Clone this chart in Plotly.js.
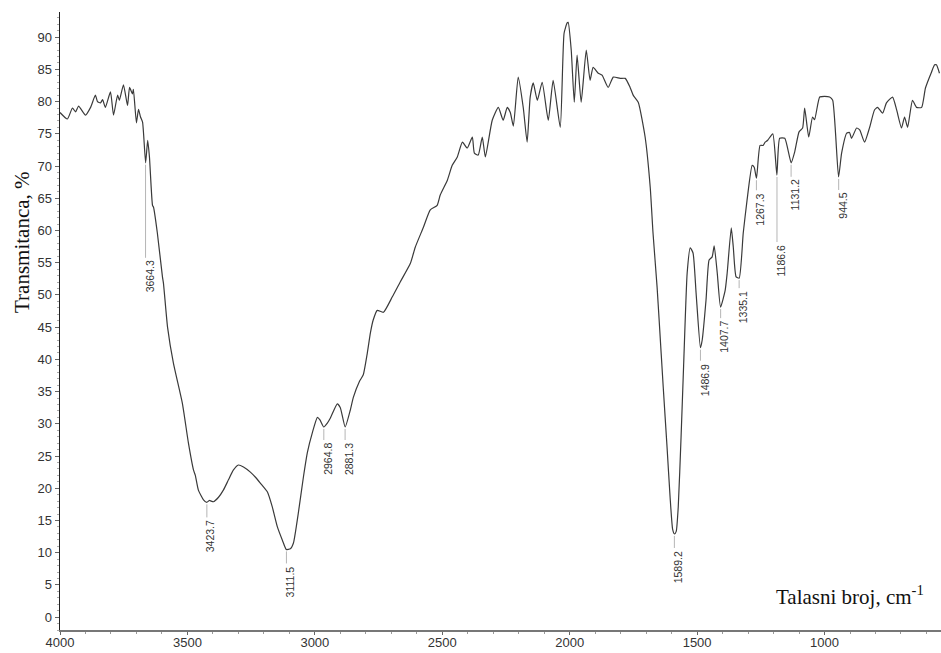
<!DOCTYPE html>
<html>
<head>
<meta charset="utf-8">
<script src="https://cdn.plot.ly/plotly-3.0.1.min.js"></script>
<style>html,body{margin:0;padding:0;background:#fff}#chart{width:941px;height:653px}</style>
</head>
<body>
<div id="chart"></div>
<script>
// Spectrum: wavenumber (cm-1) and transmittance (%)
const wavenumber = [4000,3971,3951,3939,3927,3900,3880,3861,3853,3841,3833,3822,3802,3790,3774,3767,3751,3735,3727,3716,3712,3700,3692,3684,3676,3664,3656,3649,3637,3633,3618,3598,3594,3578,3555,3520,3496,3476,3469,3457,3437,3424,3414,3398,3378,3359,3339,3320,3300,3280,3253,3233,3214,3186,3167,3147,3127,3112,3096,3084,3065,3045,3029,3010,2990,2980,2965,2951,2939,2912,2900,2881,2861,2849,2826,2810,2794,2782,2771,2755,2731,2696,2665,2625,2606,2574,2547,2520,2508,2480,2461,2441,2421,2402,2382,2374,2359,2343,2331,2304,2280,2261,2245,2233,2221,2202,2182,2167,2155,2143,2127,2108,2084,2065,2037,2022,2010,2006,1994,1982,1971,1955,1935,1920,1908,1888,1873,1849,1829,1802,1782,1763,1751,1731,1704,1684,1673,1657,1649,1633,1618,1606,1596,1589,1582,1574,1563,1553,1539,1527,1516,1504,1487,1480,1465,1453,1441,1433,1421,1408,1390,1382,1366,1358,1347,1335,1319,1304,1284,1276,1267,1253,1241,1233,1223,1203,1187,1176,1156,1131,1117,1100,1086,1078,1062,1047,1039,1019,1000,980,968,945,933,913,902,894,874,862,843,823,804,792,772,757,733,717,698,686,674,655,639,619,604,580,568,561,549];
const transmittance = [78.3,77.3,79.0,78.4,79.3,77.9,79.1,81.0,80.0,79.8,80.3,79.1,81.5,77.9,81.0,80.2,82.6,79.4,82.2,81.2,81.9,76.7,78.8,77.6,76.8,70.5,74.0,71.4,63.9,63.6,59.6,52.8,51.8,45.0,39.4,33.2,27.0,22.8,22.0,19.7,18.2,17.8,18.1,17.9,18.6,19.7,21.3,22.8,23.6,23.3,22.5,21.7,20.8,19.4,17.1,14.0,11.9,10.5,10.6,11.5,16.1,21.7,25.6,28.6,31.0,30.6,29.5,30.1,30.9,33.1,32.5,29.5,32.1,34.1,36.5,37.6,41.0,44.1,46.1,47.6,47.3,49.7,52.0,54.9,57.4,60.5,63.2,63.9,65.5,67.8,70.1,71.4,73.7,72.8,74.5,72.0,71.7,74.5,71.4,77.1,79.1,77.1,79.1,78.3,76.2,83.8,79.0,73.7,80.7,82.9,80.2,83.0,77.1,83.3,76.0,90.6,92.2,92.3,88.0,79.9,87.2,79.9,88.0,83.3,85.3,84.4,84.1,82.2,83.8,83.6,83.6,82.2,81.0,79.9,74.5,66.7,59.6,51.2,46.1,35.7,26.4,18.6,13.6,12.9,13.3,17.1,27.9,39.0,53.4,57.3,56.5,50.3,41.8,43.0,49.2,55.4,55.9,57.6,53.4,48.1,50.7,53.4,60.4,57.4,52.8,52.6,59.6,64.7,70.1,69.8,68.1,73.2,73.2,73.7,74.0,75.0,68.6,74.3,74.3,70.5,72.2,75.3,75.9,79.0,74.5,77.6,77.2,80.7,80.8,80.7,80.2,68.3,72.0,75.1,75.2,74.3,75.9,75.6,73.7,76.0,78.7,79.1,78.2,79.8,80.7,78.7,75.9,77.6,76.0,80.2,79.1,79.1,82.1,84.6,85.7,85.7,84.4];

// Labelled band positions and their transmittance minima
const peakWavenumber = [3664.3,3423.7,3111.5,2964.8,2881.3,1589.2,1486.9,1407.7,1335.1,1267.3,1186.6,1131.2,944.5];
const peakTransmittance = [70.5,17.8,10.5,29.5,29.5,12.9,41.8,48.1,52.6,68.1,68.6,70.5,68.3];
const peakLabels = ["3664.3","3423.7","3111.5","2964.8","2881.3","1589.2","1486.9","1407.7","1335.1","1267.3","1186.6","1131.2","944.5"];

const xTickVals = [4000,3500,3000,2500,2000,1500,1000];
const yTickVals = [0,5,10,15,20,25,30,35,40,45,50,55,60,65,70,75,80,85,90];

// layout-only: leader length in px under each peak
const leaderPx = [95,15,14,13,13,14,13,11,10,12,67,14,13];
const pxPerUnit = 6.444;

const shapes = [], annotations = [];
peakWavenumber.forEach((w,i)=>{
  const yEnd = peakTransmittance[i] - leaderPx[i]/pxPerUnit;
  shapes.push({type:'line', xref:'x', yref:'y', x0:w, x1:w, y0:peakTransmittance[i]-0.3, y1:yEnd,
    line:{color:'#b5b5b5', width:1}});
  annotations.push({xref:'x', yref:'y', x:w, y:yEnd, text:peakLabels[i], showarrow:false,
    textangle:-90, xanchor:'center', yanchor:'top', xshift:4, yshift:-1,
    font:{family:'Liberation Sans, Arial, sans-serif', size:10.5, color:'#333'}});
});
annotations.push({xref:'paper', yref:'paper', x:-0.043, y:0.628, text:'Transmitanca, %', showarrow:false,
  textangle:-90, xanchor:'center', yanchor:'middle',
  font:{family:'Liberation Serif, Times New Roman, serif', size:21, color:'#111'}});
annotations.push({xref:'paper', yref:'paper', x:0.983, y:0.03, text:'Talasni broj, cm<sup>-1</sup>', showarrow:false,
  xanchor:'right', yanchor:'bottom',
  font:{family:'Liberation Serif, Times New Roman, serif', size:21, color:'#111'}});

const trace = {x:wavenumber, y:transmittance, type:'scatter', mode:'lines',
  line:{color:'#3a3a3a', width:1.2, shape:'spline', smoothing:0.5}, hoverinfo:'skip'};

const layout = {
  width:941, height:653,
  margin:{l:60, r:0, t:12, b:23, pad:0},
  paper_bgcolor:'#fff', plot_bgcolor:'#fff',
  showlegend:false,
  xaxis:{range:[4000,543], tickvals:xTickVals, ticktext:xTickVals.map(String),
    showgrid:false, zeroline:false, showline:true, linecolor:'#777', linewidth:2,
    ticks:'outside', ticklen:3, tickcolor:'#666', tickwidth:1, ticklabelstandoff:-4,
    minor:{dtick:100, tick0:0, ticks:'outside', ticklen:2, tickcolor:'#999', showgrid:false},
    tickfont:{family:'Liberation Sans, Arial, sans-serif', size:13, color:'#333'}},
  yaxis:{range:[-2,93.9], tickvals:yTickVals, ticktext:yTickVals.map(String),
    showgrid:false, zeroline:false, showline:true, linecolor:'#222', linewidth:1.5,
    ticks:'outside', ticklen:4, tickcolor:'#666', tickwidth:1,
    minor:{dtick:1, tick0:0, ticks:'outside', ticklen:2, tickcolor:'#aaa', showgrid:false},
    tickfont:{family:'Liberation Sans, Arial, sans-serif', size:13, color:'#333'}},
  shapes:shapes, annotations:annotations
};
Plotly.newPlot('chart',[trace],layout,{displayModeBar:false, staticPlot:true});
</script>
</body>
</html>
